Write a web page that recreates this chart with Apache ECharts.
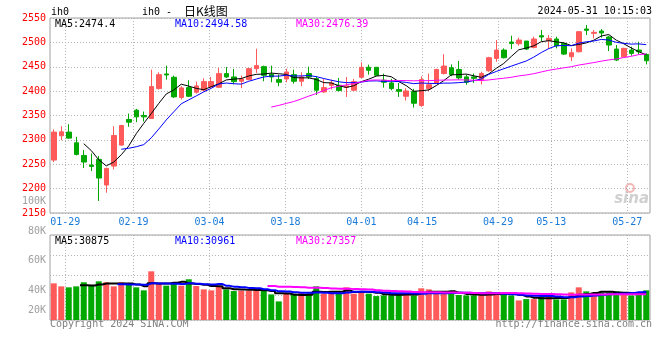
<!DOCTYPE html>
<html><head><meta charset="utf-8">
<script src="https://cdn.jsdelivr.net/npm/echarts@6/dist/echarts.min.js"></script>
<style>html,body{margin:0;padding:0;background:#fff}#c{width:660px;height:360px}</style>
</head><body><div id="c"></div>
<script>
// ---------- data ----------
const dates = ['01-25','01-26','01-29','01-30','01-31','02-01','02-02','02-05','02-06','02-07','02-08',
'02-19','02-20','02-21','02-22','02-23','02-26','02-27','02-28','02-29','03-01',
'03-04','03-05','03-06','03-07','03-08','03-11','03-12','03-13','03-14','03-15',
'03-18','03-19','03-20','03-21','03-22','03-25','03-26','03-27','03-28','03-29',
'04-01','04-02','04-03','04-08','04-09','04-10','04-11','04-12',
'04-15','04-16','04-17','04-18','04-19','04-22','04-23','04-24','04-25','04-26',
'04-29','04-30','05-06','05-07','05-08','05-09','05-10',
'05-13','05-14','05-15','05-16','05-17','05-20','05-21','05-22','05-23','05-24',
'05-27','05-28','05-29','05-30'];
const opens = [2258.6,2308.4,2315.9,2294.0,2268.1,2248.3,2260.0,2207.4,2246.3,2289.3,2341.8,2360.9,2350.0,2343.8,2405.2,2435.2,2428.4,2386.8,2407.2,2397.7,
2401.8,2408.6,2407.9,2435.9,2429.1,2420.2,2423.6,2446.1,2450.2,2434.5,2423.6,2425.0,2433.8,2420.2,2435.9,2425.7,2398.4,2412.0,2412.0,2407.9,
2401.8,2428.4,2448.9,2448.9,2422.3,2416.8,2403.2,2389.5,2399.0,2370.4,2405.0,2416.7,2436.1,2447.9,2444.4,2429.2,2429.2,2422.6,2441.8,2467.1,
2484.2,2500.7,2497.3,2502.7,2489.7,2513.7,2503.4,2506.9,2497.9,2470.5,2480.8,2527.4,2518.5,2523.3,2511.0,2486.3,2470.5,2484.2,2484.2,2475.3];
const closes = [2315.9,2316.5,2303.6,2270.2,2254.5,2245.6,2221.7,2241.5,2309.0,2329.5,2336.3,2347.2,2347.2,2409.3,2433.8,2433.2,2388.2,2406.6,2389.5,2410.7,
2419.5,2419.5,2435.9,2429.1,2419.5,2425.0,2446.1,2452.3,2432.5,2429.1,2418.2,2439.3,2420.2,2429.1,2429.1,2401.8,2407.2,2416.8,2401.1,2410.7,
2419.5,2448.9,2442.7,2432.5,2418.2,2405.2,2399.7,2400.4,2375.2,2423.6,2413.0,2444.4,2451.4,2434.0,2427.1,2418.1,2426.4,2436.3,2468.5,2484.2,
2468.5,2497.9,2504.8,2486.3,2506.9,2511.0,2508.2,2493.2,2476.0,2478.8,2521.9,2524.7,2520.6,2519.2,2494.5,2463.7,2487.7,2477.4,2480.8,2462.3];
const lows = [2254.5,2299.5,2302.2,2268.1,2242.2,2236.0,2174.7,2191.7,2239.5,2287.9,2326.8,2336.3,2337.7,2343.1,2403.2,2423.6,2386.1,2382.7,2388.2,2395.0,
2400.4,2406.6,2406.6,2427.0,2414.1,2405.9,2422.3,2437.3,2420.2,2418.2,2410.0,2418.2,2415.4,2410.0,2425.0,2392.2,2396.3,2403.2,2399.7,2388.0,
2400.4,2427.0,2433.8,2432.5,2407.2,2401.8,2388.2,2380.6,2366.3,2367.7,2400.0,2415.3,2434.0,2430.6,2423.6,2413.2,2416.7,2413.7,2439.7,2460.3,
2467.1,2486.3,2493.2,2484.2,2487.7,2502.7,2486.3,2487.7,2474.0,2461.6,2479.5,2515.1,2508.2,2509.6,2482.2,2461.6,2469.2,2472.6,2475.3,2454.8];
const highs = [2321.3,2328.0,2332.2,2306.3,2279.0,2272.2,2266.8,2242.9,2328.0,2330.9,2354.0,2363.6,2358.1,2444.1,2438.6,2452.3,2431.8,2410.0,2422.3,2419.5,
2426.3,2429.1,2447.5,2449.5,2445.4,2431.8,2447.5,2487.0,2452.3,2452.3,2433.8,2446.1,2444.1,2438.6,2450.2,2430.4,2425.0,2423.6,2427.0,2429.0,
2425.0,2459.1,2454.3,2448.9,2435.9,2425.0,2416.8,2405.9,2404.5,2430.4,2436.0,2445.8,2475.7,2454.9,2461.8,2434.0,2436.1,2439.7,2470.5,2504.8,
2487.7,2513.7,2509.6,2502.7,2511.6,2525.3,2515.1,2511.6,2500.0,2487.7,2523.3,2535.6,2525.3,2527.4,2513.7,2494.5,2489.0,2491.1,2501.4,2477.4];
const volumes = [41400,38000,36900,38000,42600,39200,43700,42600,38000,42600,39900,36900,33500,55000,41400,38800,41400,38800,46000,38400,
34600,33500,38000,34600,32700,33100,33100,35800,32700,28900,21000,30900,29700,31200,30100,38000,29700,30900,30900,36900,
29700,30900,29700,27000,27800,27800,30400,30400,27800,35800,34600,31200,30100,30100,28200,27800,27800,28200,32300,31200,
28600,27800,22100,23600,23600,26300,27500,23300,23300,31200,36900,32300,28600,30900,31200,32300,30400,27800,31200,33500];
const labelDates = ['01-29','02-19','03-04','03-18','04-01','04-15','04-29','05-13','05-27'];
const priceMin = 2150, priceMax = 2550, priceStep = 50;
const maPeriods = [5, 10, 30];
const priceMaText = ['2474.4', '2494.58', '2476.39'];
const volMaText = ['30875', '30961', '27357'];
const volTickLabels = ['100K', '80K', '60K', '40K', '20K'];
const titleText = ['ih0', 'ih0 -  ', '日K线图'];
const timeText = '2024-05-31 10:15:03';
const footerText = ['Copyright 2024 SINA.COM', 'http://finance.sina.com.cn'];

// ---------- style ----------
const RED = '#ff5a5a', GREEN = '#00a800';
const MA_COLORS = ['#000000', '#0000ff', '#ff00ff'];
const MONO = '"DejaVu Sans Mono", monospace';
const GRIDC = '#b4b4b4';
const volTickY = [201, 231, 260, 290.5, 310.5];
const maTextX = [55, 175, 296];

function ma(arr, n) {
  return arr.map((v, i) => {
    if (i < n - 1) return '-';
    let s = 0; for (let k = i - n + 1; k <= i; k++) s += arr[k];
    return +(s / n).toFixed(2);
  });
}
const isLabel = (i) => labelDates.indexOf(dates[i]) >= 0;

const chart = echarts.init(document.getElementById('c'), null, {renderer: 'canvas'});

const graphics = [];
graphics.push({type:'text', x:51, y:12, style:{text:titleText[0], font:'10px '+MONO, fill:'#000', textVerticalAlign:'middle'}});
graphics.push({type:'text', x:142, y:12, style:{text:titleText[1], font:'10px '+MONO, fill:'#000', textVerticalAlign:'middle'}});
graphics.push({type:'text', x:184, y:11, style:{text:titleText[2], font:'12px "Noto Sans CJK SC"', fill:'#000', textVerticalAlign:'middle'}});
graphics.push({type:'text', x:652, y:11, style:{text:timeText, font:'10px '+MONO, fill:'#000', textAlign:'right', textVerticalAlign:'middle'}});
maPeriods.forEach((p, k) => {
  graphics.push({type:'text', x:maTextX[k], y:24, z:10, style:{text:'MA'+p+':'+priceMaText[k], font:'10px '+MONO, fill:MA_COLORS[k], textVerticalAlign:'middle'}});
  graphics.push({type:'text', x:maTextX[k], y:241, z:10, style:{text:'MA'+p+':'+volMaText[k], font:'10px '+MONO, fill:MA_COLORS[k], textVerticalAlign:'middle'}});
});
volTickLabels.forEach((t, k) => {
  graphics.push({type:'text', x:46, y:volTickY[k], style:{text:t, font:'10px '+MONO, fill:'#a0a0a0', textAlign:'right', textVerticalAlign:'middle'}});
});
graphics.push({type:'text', x:50, y:324, style:{text:footerText[0], font:'10px '+MONO, fill:'#808080', textVerticalAlign:'middle'}});
graphics.push({type:'text', x:652, y:324, style:{text:footerText[1], font:'10px '+MONO, fill:'#808080', textAlign:'right', textVerticalAlign:'middle'}});
graphics.push({type:'text', x:649, y:199, style:{text:'sina', font:'italic bold 15px "DejaVu Sans"', fill:'#d0d0d0', textAlign:'right', textVerticalAlign:'middle'}});
graphics.push({type:'circle', shape:{cx:630, cy:188, r:4}, style:{fill:'none', stroke:'#f3b8b8', lineWidth:2}});

const option = {
  animation: false,
  backgroundColor: '#ffffff',
  graphic: graphics,
  grid: [
    {left:50, top:18, width:600, height:195, show:true, borderColor:'#a0a0a0', borderWidth:1, backgroundColor:'transparent'},
    {left:50, top:235, width:600, height:85, show:true, borderColor:'#a0a0a0', borderWidth:1, backgroundColor:'transparent'}
  ],
  xAxis: [
    {type:'category', gridIndex:0, data:dates, boundaryGap:true, show:false},
    {type:'category', gridIndex:0, data:dates, boundaryGap:false, position:'bottom',
     axisLine:{show:false}, axisTick:{show:false},
     axisLabel:{interval:(i)=>isLabel(i), color:'#1a7ad8', fontFamily:MONO, fontSize:10, margin:4},
     splitLine:{show:true, interval:(i)=>isLabel(i), lineStyle:{color:GRIDC, type:[1,2], width:1}}},
    {type:'category', gridIndex:1, data:dates, boundaryGap:true, show:false},
    {type:'category', gridIndex:1, data:dates, boundaryGap:false,
     axisLine:{show:false}, axisTick:{show:false}, axisLabel:{show:false},
     splitLine:{show:true, interval:(i)=>isLabel(i), lineStyle:{color:GRIDC, type:[1,2], width:1}}}
  ],
  yAxis: [
    {type:'value', gridIndex:0, min:priceMin, max:priceMax, interval:priceStep, position:'left',
     axisLine:{show:false}, axisTick:{show:false},
     axisLabel:{color:'#ff0000', fontFamily:MONO, fontSize:10, margin:4, padding:[0,0,3,0], formatter:(v)=>String(v)},
     splitLine:{show:true, lineStyle:{color:GRIDC, type:[1,2], width:1}}},
    {type:'value', gridIndex:1, min:0, max:96000, show:false},
    {type:'value', gridIndex:1, min:0, max:85, interval:20, inverse:true, position:'right',
     axisLine:{show:false}, axisTick:{show:false}, axisLabel:{show:false},
     splitLine:{show:true, lineStyle:{color:GRIDC, type:[1,2], width:1}}}
  ],
  series: [
    {type:'candlestick', xAxisIndex:0, yAxisIndex:0, barWidth:5,
     data: dates.map((d, i) => [opens[i], closes[i], lows[i], highs[i]]),
     itemStyle:{color:RED, color0:GREEN, borderColor:RED, borderColor0:GREEN, borderWidth:1}},
    ...maPeriods.map((p, k) => ({type:'line', xAxisIndex:0, yAxisIndex:0, data:ma(closes, p), symbol:'none',
      lineStyle:{color:MA_COLORS[k], width:1}, z:3})),
    {type:'bar', xAxisIndex:2, yAxisIndex:1, barWidth:6,
     data: volumes.map((v, i) => ({value:v, itemStyle:{color: closes[i] >= opens[i] ? RED : GREEN}}))},
    ...maPeriods.map((p, k) => ({type:'line', xAxisIndex:2, yAxisIndex:1, data:ma(volumes, p), symbol:'none', step:'middle',
      lineStyle:{color:MA_COLORS[k], width:2}, z:3}))
  ]
};
chart.setOption(option);
</script>
</body></html>
